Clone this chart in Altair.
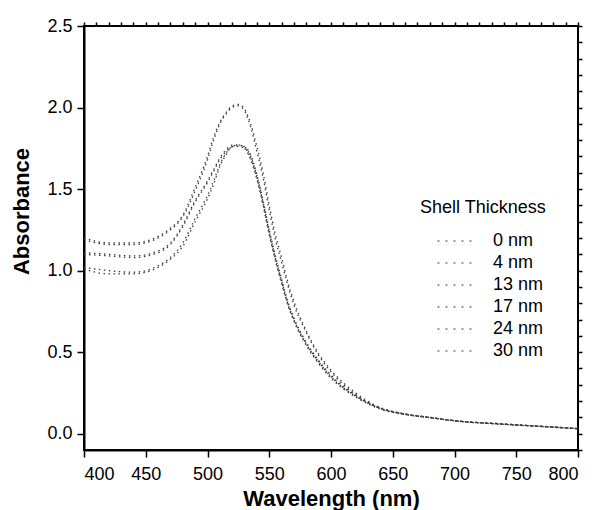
import altair as alt
import pandas as pd

wavelength = [400, 420, 440, 460, 470, 480, 490, 500, 505, 510, 515, 520, 525, 530, 535, 540,
              545, 550, 555, 560, 565, 570, 580, 590, 600, 620, 640, 660, 680, 700, 740, 770, 800]

series_names = ["0 nm", "4 nm", "13 nm", "17 nm", "24 nm", "30 nm"]

abs_0nm = [1.01, 0.98, 0.98, 1.02, 1.07, 1.15, 1.30, 1.44, 1.53, 1.64, 1.71, 1.76, 1.76, 1.75, 1.69, 1.57,
           1.41, 1.23, 1.07, 0.93, 0.80, 0.70, 0.55, 0.44, 0.35, 0.23, 0.155, 0.12, 0.099, 0.079, 0.058, 0.045, 0.031]
abs_4nm = [1.02, 1.00, 0.99, 1.03, 1.08, 1.17, 1.32, 1.46, 1.55, 1.65, 1.72, 1.76, 1.77, 1.76, 1.71, 1.59,
           1.43, 1.25, 1.09, 0.95, 0.81, 0.71, 0.56, 0.45, 0.36, 0.235, 0.158, 0.122, 0.10, 0.08, 0.06, 0.046, 0.032]
abs_13nm = [1.10, 1.09, 1.08, 1.11, 1.16, 1.27, 1.42, 1.54, 1.61, 1.68, 1.73, 1.76, 1.77, 1.75, 1.68, 1.56,
            1.40, 1.22, 1.06, 0.92, 0.79, 0.69, 0.54, 0.43, 0.34, 0.225, 0.15, 0.118, 0.098, 0.078, 0.057, 0.044, 0.031]
abs_17nm = [1.11, 1.10, 1.09, 1.12, 1.17, 1.28, 1.43, 1.55, 1.62, 1.69, 1.74, 1.77, 1.77, 1.76, 1.70, 1.58,
            1.42, 1.24, 1.08, 0.94, 0.80, 0.70, 0.55, 0.44, 0.35, 0.23, 0.155, 0.12, 0.10, 0.08, 0.058, 0.045, 0.032]
abs_24nm = [1.19, 1.16, 1.16, 1.20, 1.25, 1.33, 1.49, 1.68, 1.80, 1.90, 1.96, 2.00, 2.01, 1.98, 1.88, 1.73,
            1.57, 1.37, 1.19, 1.05, 0.91, 0.79, 0.62, 0.48, 0.38, 0.24, 0.155, 0.118, 0.098, 0.08, 0.058, 0.044, 0.03]
abs_30nm = [1.20, 1.17, 1.17, 1.21, 1.26, 1.34, 1.51, 1.70, 1.82, 1.91, 1.97, 2.01, 2.02, 1.99, 1.90, 1.76,
            1.60, 1.40, 1.22, 1.08, 0.93, 0.81, 0.63, 0.49, 0.39, 0.25, 0.16, 0.12, 0.10, 0.08, 0.06, 0.045, 0.03]

x_major = [400, 450, 500, 550, 600, 650, 700, 750, 800]
x_minor = list(range(400, 801, 10))
y_major = [0.0, 0.5, 1.0, 1.5, 2.0, 2.5]
y_minor = [round(v * 0.1, 1) for v in range(-1, 26)]

all_series = [abs_0nm, abs_4nm, abs_13nm, abs_17nm, abs_24nm, abs_30nm]
rows = []
for name, vals in zip(series_names, all_series):
    for w, a in zip(wavelength, vals):
        rows.append({"Wavelength": w, "Absorbance": a, "Shell": name})
df = pd.DataFrame(rows)

xscale = alt.Scale(domain=[400, 800], nice=False, zero=False)
yscale = alt.Scale(domain=[-0.1, 2.5], nice=False, zero=False)

lines = alt.Chart(df).mark_line(
    strokeDash=[1.5, 3.5], strokeWidth=1.3, interpolate="monotone"
).encode(
    x=alt.X("Wavelength:Q", scale=xscale,
            axis=alt.Axis(values=x_major, format="d", tickSize=7, labelPadding=8,
                          title="Wavelength (nm)", titleY=48, titleBaseline="middle")),
    y=alt.Y("Absorbance:Q", scale=yscale,
            axis=alt.Axis(values=y_major, format=".1f", tickSize=7, labelPadding=5,
                          title="Absorbance", titleX=-63, titleY=185,
                          titleAlign="center", titleBaseline="middle", titleAngle=270)),
    color=alt.Color("Shell:N",
                    scale=alt.Scale(domain=series_names, range=["#3a3a3a"] * 6),
                    sort=series_names,
                    legend=alt.Legend(title="Shell Thickness", orient="none",
                                      legendX=336, legendY=173,
                                      symbolType="stroke", symbolSize=1600,
                                      symbolStrokeColor="#e0e0e0", symbolDash=[2, 6],
                                      symbolStrokeWidth=1, symbolOffset=17,
                                      labelOffset=15, rowPadding=4, clipHeight=18,
                                      titlePadding=15, padding=0)),
)

minor = alt.Chart(df).mark_point(opacity=0).encode(
    x=alt.X("Wavelength:Q", scale=xscale,
            axis=alt.Axis(values=x_minor, labels=False, domain=False, tickSize=4, title=None)),
    y=alt.Y("Absorbance:Q", scale=yscale,
            axis=alt.Axis(values=y_minor, labels=False, domain=False, tickSize=4, title=None)),
)

chart = alt.layer(lines, minor).resolve_axis(x="independent", y="independent").properties(
    width=494, height=424,
    autosize=alt.AutoSizeParams(type="none"),
    padding={"left": 76, "top": 18, "right": 10, "bottom": 62},
).configure(
    font="Liberation Sans",
).configure_view(
    stroke="black", strokeWidth=2
).configure_axis(
    labelFontSize=18, labelColor="black", labelFont="Liberation Sans",
    titleFontSize=22, titleFontWeight="bold", titleColor="black", titleFont="Liberation Sans",
    domainColor="black", domainWidth=2, tickColor="black", tickWidth=1.5, grid=False,
).configure_legend(
    titleFontSize=18, titleFontWeight="normal", titleColor="black", titleFont="Liberation Sans",
    labelFontSize=18, labelColor="black", labelFont="Liberation Sans",
)

chart.save("out.html", embed_options={"renderer": "svg", "actions": False})
